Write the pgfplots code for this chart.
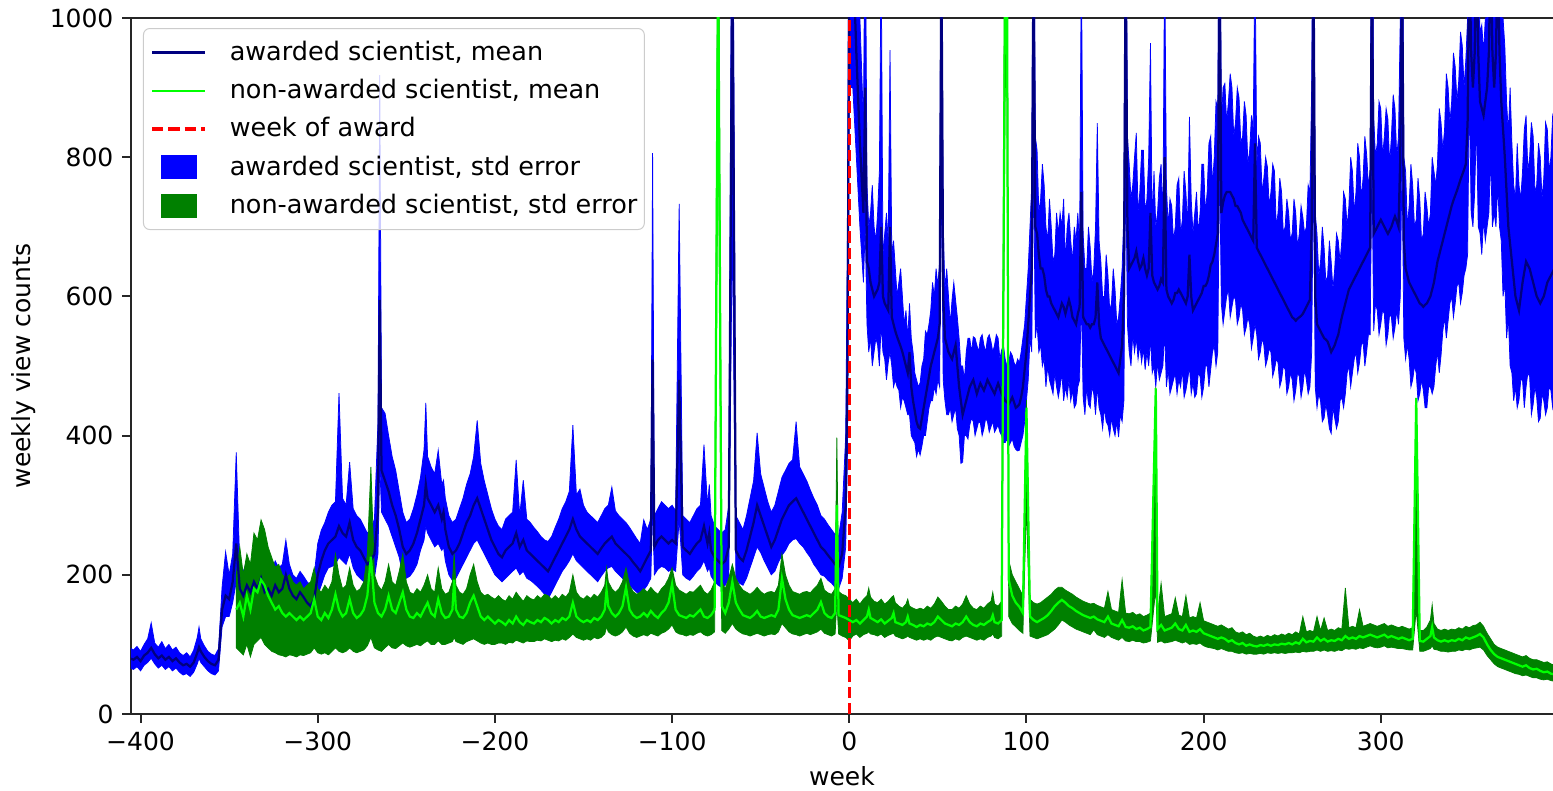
\documentclass[border=0pt]{standalone}
\usepackage{fontspec}
\setmainfont{DejaVu Sans}
\usepackage{pgfplots}
\usepackage{pgfplotstable}
\pgfplotsset{compat=1.18}
\usepgfplotslibrary{fillbetween}
\definecolor{navy}{HTML}{000080}
\definecolor{limeg}{HTML}{00FF00}
\definecolor{mplgreen}{HTML}{008000}
\pgfplotsset{
  mylineleg/.style={legend image code/.code={\draw[##1, sharp corners] (0pt,0pt) -- (21pt,0pt);}},
  mypatchleg/.style={legend image code/.code={\path[##1, draw=none, sharp corners, fill opacity=1] (3.4pt,-4.8pt) rectangle (17.8pt,4.8pt);}},
}
\pgfplotstableread{
w bm bu bl
-406 80 95 66
-404 78 92 64
-402 82 97 68
-400 76 90 62
-398 84 100 70
-396 88 108 74
-394 95 131 80
-392 86 102 72
-390 80 96 66
-388 84 104 70
-386 78 94 64
-384 82 100 68
-382 76 92 62
-380 80 96 66
-378 74 88 60
-376 70 84 56
-374 72 88 58
-372 68 82 54
-370 74 92 60
-368 88 110 72
-367 96 125 80
-366 90 108 74
-364 82 98 68
-362 76 90 62
-360 72 86 58
-358 70 84 56
-356 78 94 62
-354 150 182 125
-352 170 233 140
-350 165 200 140
-348 190 230 160
-346 245 376 190
-344 180 215 150
-342 170 205 145
-340 185 220 155
-338 175 210 145
-336 190 230 155
-334 180 215 150
-332 195 235 160
-330 175 210 145
-328 180 215 150
-326 170 205 140
-324 185 220 150
-322 175 210 145
-320 180 215 150
-318 200 250 165
-316 180 215 150
-314 170 200 145
-312 165 195 140
-310 175 205 148
-308 168 198 142
-306 160 190 135
-304 155 185 130
-302 165 200 140
-300 200 245 170
-298 220 264 185
-296 235 275 200
-294 245 290 210
-292 250 300 212
-290 255 305 215
-288 270 461 225
-286 260 310 220
-284 255 300 215
-282 275 362 230
-280 250 295 210
-278 240 285 200
-276 235 280 195
-274 225 270 190
-272 215 260 182
-270 220 265 185
-268 230 280 195
-266 290 420 230
-265 595 918 360
-264 350 440 290
-262 335 432 280
-260 320 400 270
-258 300 370 255
-256 285 350 240
-254 265 320 225
-252 240 290 200
-250 230 275 195
-248 235 280 198
-246 245 295 205
-244 260 315 215
-242 280 340 235
-240 300 380 250
-239 330 447 270
-238 310 370 260
-236 300 355 250
-234 290 345 240
-232 300 379 245
-230 280 330 235
-229 290 336 240
-228 265 310 220
-226 240 285 200
-224 230 275 192
-222 235 280 195
-220 245 295 205
-218 260 310 215
-216 275 330 225
-214 285 345 235
-212 300 370 245
-210 310 422 250
-208 295 360 240
-206 280 335 230
-204 265 315 220
-202 250 295 210
-200 240 280 200
-198 230 270 195
-196 225 265 190
-194 235 280 195
-192 240 285 200
-190 245 290 205
-188 260 365 210
-186 240 285 200
-184 250 336 205
-182 235 280 195
-180 230 275 192
-178 225 268 188
-176 220 262 183
-174 215 255 178
-172 210 250 172
-170 205 248 165
-168 215 255 175
-166 225 268 185
-164 235 280 195
-162 245 295 205
-160 255 305 212
-158 265 320 220
-156 280 415 230
-154 265 315 220
-152 255 323 215
-150 250 300 210
-148 245 290 205
-146 240 285 200
-144 235 280 195
-142 230 275 190
-140 238 285 198
-138 245 295 205
-136 250 300 210
-134 255 326 212
-132 245 292 205
-130 240 285 200
-128 235 280 195
-126 230 275 190
-124 225 268 185
-122 218 260 180
-120 212 252 175
-118 205 245 172
-116 215 279 178
-114 225 265 185
-112 235 280 195
-111 509 806 300
-110 240 285 200
-108 250 295 208
-106 255 305 212
-104 250 300 210
-102 245 295 205
-100 250 300 208
-98 245 292 205
-96 480 733 280
-94 240 285 200
-92 235 280 195
-90 230 275 192
-88 238 285 198
-86 245 295 205
-84 250 300 210
-82 270 387 220
-80 245 300 205
-79 260 330 210
-78 235 285 198
-76 225 270 190
-74 220 265 185
-72 215 260 182
-70 220 265 185
-68 240 300 195
-66 1100 1400 700
-64 235 285 195
-62 225 275 188
-60 220 265 185
-58 235 285 195
-56 255 310 210
-54 275 335 225
-52 300 404 240
-50 285 345 232
-48 270 325 220
-46 255 305 210
-44 240 290 200
-42 250 300 205
-40 265 320 218
-38 280 340 228
-36 290 350 235
-34 300 360 245
-32 305 365 250
-30 310 420 252
-28 300 355 245
-26 290 345 240
-24 280 335 232
-22 270 322 225
-20 260 310 215
-18 250 300 208
-16 240 285 200
-14 235 280 198
-12 228 272 192
-10 222 265 188
-8 215 258 182
-6 212 255 180
-4 230 290 195
-2 300 400 240
-1 500 700 380
0 1100 1300 900
2 1100 1300 900
4 950 1150 800
6 820 1000 700
8 720 850 620
9 900 1200 700
10 650 760 560
11 640 700 520
12 620 720 540
13 610 760 500
14 600 700 520
15 605 680 540
16 610 720 530
17 620 780 500
18 700 1100 560
19 600 660 520
20 590 690 510
21 585 720 480
22 580 680 505
23 700 954 520
24 570 660 500
25 560 680 470
26 550 640 480
27 542 600 470
28 535 620 465
29 528 640 440
30 520 600 455
31 510 560 450
32 500 580 440
33 490 540 430
34 520 590 430
35 470 540 400
36 450 520 395
37 435 490 390
38 420 480 370
39 412 470 380
40 410 476 372
41 425 500 385
42 440 510 400
43 455 550 400
44 470 545 420
45 485 560 440
46 500 580 450
47 510 620 450
48 520 600 470
49 530 640 460
50 540 615 480
51 560 650 470
52 1100 1300 800
53 600 700 480
54 540 610 450
55 530 640 430
56 520 600 430
57 515 560 440
58 510 595 420
59 520 620 430
60 530 595 440
61 500 570 410
62 470 540 400
63 450 500 360
64 430 500 362
65 440 480 400
66 450 520 400
67 460 540 395
68 470 540 415
69 475 520 425
70 480 542 420
71 470 540 400
72 460 530 410
73 468 520 420
74 475 540 418
75 470 545 400
76 465 530 410
77 472 520 425
78 480 540 420
79 475 545 405
80 470 535 413
81 465 520 420
82 460 530 405
83 468 545 410
84 475 540 415
85 468 510 405
86 460 523 400
87 455 530 390
88 450 510 390
89 448 500 395
90 445 505 385
91 450 520 390
92 455 515 395
93 448 505 385
94 440 500 380
95 442 510 378
96 445 505 379
97 455 520 390
98 470 540 400
99 495 560 420
100 520 600 450
101 560 640 480
102 600 700 540
103 640 760 520
104 1100 1300 800
105 700 830 540
106 690 810 560
107 660 720 520
108 640 740 530
109 640 790 500
110 630 760 510
111 610 700 470
112 600 680 500
113 600 740 480
114 590 700 470
115 585 650 460
116 580 660 490
117 575 720 470
118 570 690 455
119 580 720 470
120 590 700 490
121 585 740 450
122 575 650 470
123 585 700 455
124 595 720 480
125 585 680 450
126 570 650 465
127 565 700 440
128 560 680 445
129 575 720 470
130 585 670 480
131 750 1100 600
132 570 690 455
133 565 640 430
134 560 640 470
135 560 700 445
136 555 670 440
137 560 620 470
138 560 640 460
139 570 700 430
140 620 849 470
141 560 680 440
142 540 650 430
143 535 600 410
144 530 600 440
145 525 660 420
146 520 630 415
147 515 580 400
148 510 590 425
149 505 640 410
150 500 610 400
151 495 560 420
152 490 570 398
153 510 600 430
154 530 640 420
155 600 720 450
156 1100 1300 800
157 700 830 560
158 640 790 520
159 645 740 500
160 650 760 545
161 655 800 520
162 665 835 540
163 650 720 510
164 640 750 530
165 645 810 505
166 655 810 525
167 640 720 495
168 630 740 520
169 640 800 500
170 720 964 540
171 630 700 490
172 620 780 500
173 615 700 470
174 610 720 505
175 615 770 480
176 625 790 490
177 620 700 500
178 800 1100 550
179 610 760 470
180 600 700 495
181 595 740 460
182 590 730 470
183 595 680 480
184 605 700 490
185 605 760 460
186 610 770 480
187 605 690 470
188 600 710 495
189 595 780 455
190 590 750 465
191 600 700 480
192 660 858 500
193 600 740 460
194 580 690 475
195 585 720 455
196 590 750 460
197 595 690 490
198 600 720 485
199 605 790 455
200 615 790 470
201 615 720 500
202 620 750 500
203 630 820 470
204 645 830 495
205 650 760 520
206 660 800 530
207 675 880 500
208 690 870 520
209 1100 1300 800
210 720 850 590
211 735 900 560
212 745 906 580
213 750 850 600
214 750 880 610
215 750 920 570
216 745 900 585
217 740 830 600
218 730 850 595
219 730 900 560
220 725 885 570
221 720 820 590
222 710 830 580
223 705 880 545
224 700 860 555
225 695 790 570
226 690 810 560
227 685 860 525
228 680 840 540
229 820 1100 560
230 670 790 545
231 665 830 510
232 660 820 520
233 655 750 540
234 650 770 530
235 645 800 500
236 640 786 510
237 635 730 525
238 630 750 520
239 625 790 485
240 620 780 495
241 615 700 510
242 610 720 505
243 605 770 470
244 600 750 480
245 595 690 500
246 590 700 495
247 585 740 460
248 580 720 470
249 575 680 490
250 570 691 480
251 568 740 450
252 565 720 465
253 568 670 490
254 570 690 485
255 572 730 455
256 575 714 470
257 580 690 495
258 585 700 480
259 590 760 460
260 595 750 470
261 700 900 520
262 1100 1300 800
263 600 720 470
264 560 690 440
265 555 630 460
266 550 650 450
267 545 700 420
268 540 670 425
269 538 620 445
270 535 630 430
271 528 680 410
272 520 650 403
273 525 610 440
274 530 640 425
275 538 690 410
276 545 680 420
277 558 650 450
278 570 680 455
279 580 750 440
280 590 740 460
281 600 700 490
282 610 730 500
283 615 800 470
284 620 780 490
285 625 720 510
286 630 750 520
287 635 820 490
288 640 800 505
289 645 740 530
290 650 770 535
291 655 830 500
292 660 805 520
293 665 760 545
294 670 780 545
295 1100 1300 800
296 690 858 550
297 695 800 590
298 700 820 580
299 705 880 545
300 710 870 560
301 705 800 580
302 700 830 575
303 695 870 530
304 690 855 545
305 695 790 575
306 700 830 570
307 708 890 540
308 715 870 555
309 708 800 580
310 700 830 560
311 800 1000 600
312 1100 1300 800
313 680 800 540
314 640 780 510
315 630 700 530
316 620 730 510
317 615 790 470
318 610 760 480
319 605 700 500
320 600 710 490
321 595 770 450
322 590 740 460
323 588 680 480
324 585 690 465
325 588 750 440
326 590 730 440
327 595 700 470
328 600 720 470
329 610 800 460
330 620 780 470
331 635 760 500
332 650 790 520
333 660 870 490
334 670 850 515
335 680 810 550
336 690 840 570
337 700 920 540
338 710 900 565
339 720 850 590
340 730 880 600
341 738 950 570
342 745 930 590
343 752 880 615
344 760 910 620
345 768 980 590
346 775 960 605
347 782 900 630
348 790 940 640
349 850 1000 660
350 1100 1300 900
351 950 1100 720
352 900 1100 700
353 950 1150 750
354 1100 1300 850
355 950 1100 700
356 880 978 691
357 870 990 660
358 860 950 710
359 880 1000 680
360 900 1000 700
361 950 1100 720
362 1100 1300 800
363 950 1050 700
364 900 1000 720
365 950 1100 700
366 1100 1300 760
367 950 1100 700
368 880 1000 680
369 840 1000 600
370 800 960 620
371 750 880 540
372 700 834 570
373 675 900 500
374 650 820 490
375 625 760 450
376 600 740 470
377 590 820 440
378 580 760 451
379 600 740 480
380 620 780 480
381 635 840 440
382 650 860 470
383 645 780 490
384 640 800 485
385 630 850 430
386 620 830 445
387 610 750 470
388 600 760 455
389 595 820 420
390 590 800 425
391 595 740 460
392 600 770 450
393 610 850 430
394 620 840 440
395 625 780 470
396 630 800 465
397 635 860 440
398 640 850 455
}\bluetab
\pgfplotstableread{
w gm gu gl
-346 150 200 95
-344 160 240 90
-342 140 200 85
-340 170 230 100
-338 150 215 82
-336 180 260 100
-334 175 250 105
-332 193 279 110
-330 185 265 100
-328 170 240 95
-326 160 225 90
-324 150 211 88
-322 155 215 85
-320 145 200 84
-318 140 195 82
-316 145 200 85
-314 140 190 84
-312 135 185 82
-310 140 190 85
-308 135 180 84
-306 140 185 86
-304 145 190 88
-302 165 210 95
-300 140 180 88
-298 135 175 86
-296 145 185 88
-294 138 178 85
-292 150 190 90
-290 172 230 95
-288 150 200 90
-286 140 180 88
-284 145 185 90
-282 165 210 95
-280 145 185 90
-278 138 176 88
-276 142 180 90
-274 150 190 92
-272 170 230 98
-270 226 355 110
-268 160 200 95
-266 145 185 92
-264 140 178 90
-262 150 190 95
-260 170 215 100
-258 150 190 95
-256 145 185 94
-254 160 205 98
-252 175 230 102
-250 150 190 98
-248 140 175 96
-246 138 172 98
-244 145 180 100
-242 140 175 98
-240 150 185 102
-238 160 200 105
-236 145 180 100
-234 140 175 100
-232 165 210 105
-230 145 180 100
-228 138 172 100
-226 140 175 102
-224 150 190 104
-223 193 230 110
-222 150 185 104
-220 140 175 102
-218 138 172 100
-216 145 180 104
-214 160 200 106
-212 170 215 108
-210 155 190 105
-208 140 175 102
-206 135 170 100
-204 140 172 102
-202 135 168 100
-200 130 165 100
-198 135 170 102
-196 132 165 102
-194 128 162 100
-192 135 170 103
-190 130 165 102
-188 140 175 106
-186 132 168 104
-184 128 162 102
-182 135 170 105
-180 132 166 104
-178 130 164 104
-176 135 170 106
-174 132 166 105
-172 138 172 108
-170 135 170 106
-168 130 165 104
-166 135 170 106
-164 132 165 105
-162 138 172 108
-160 135 168 106
-158 140 175 110
-156 160 200 115
-154 140 175 110
-152 135 168 108
-150 132 165 106
-148 135 170 108
-146 132 166 106
-144 138 172 110
-142 135 168 108
-140 140 175 110
-138 150 185 115
-137 178 210 125
-136 155 190 118
-134 145 180 114
-132 140 175 112
-130 145 180 114
-128 155 190 118
-126 182 210 125
-124 150 185 116
-122 142 176 112
-120 138 172 110
-118 140 175 112
-116 145 180 114
-114 140 175 112
-112 148 182 116
-110 142 176 114
-108 138 172 112
-106 145 180 116
-104 150 185 118
-102 160 195 122
-100 187 210 128
-98 150 185 118
-96 142 178 115
-94 140 175 114
-92 138 172 112
-90 142 176 114
-88 140 175 113
-86 145 180 116
-84 150 185 118
-82 140 176 114
-80 138 172 112
-78 142 178 114
-76 150 190 118
-74 1100 1300 900
-72 155 190 120
-70 145 180 116
-68 160 195 122
-66 190 215 130
-64 160 195 122
-62 150 185 118
-60 142 178 115
-58 140 175 114
-56 138 172 112
-54 142 176 114
-52 148 182 116
-50 140 176 114
-48 138 172 112
-46 140 175 114
-44 142 176 115
-42 140 174 114
-40 150 185 118
-38 195 230 130
-36 165 200 124
-34 150 185 118
-32 142 176 115
-30 140 174 114
-28 138 172 112
-26 140 175 114
-24 142 176 116
-22 140 174 114
-20 145 180 116
-18 150 185 118
-16 161 195 122
-14 145 178 116
-12 140 174 114
-10 138 172 112
-8 145 180 115
-7 300 397 160
-6 142 176 115
-4 140 172 112
-2 138 170 110
0 135 165 105
2 132 160 112
4 135 165 115
6 130 158 110
8 135 165 114
10 140 170 116
11 150 181 118
12 138 168 115
14 135 162 114
16 132 160 112
18 136 165 115
20 130 158 110
22 134 162 113
24 138 168 115
25 145 170 116
26 132 160 112
28 130 155 110
30 128 152 108
32 132 158 110
33 140 165 112
34 130 155 110
36 128 152 108
38 125 150 106
40 128 152 108
42 126 150 106
44 130 155 108
46 128 152 106
48 132 158 110
50 140 168 112
52 135 162 110
54 130 155 108
56 128 150 106
58 126 150 105
60 130 155 108
62 128 152 106
64 132 158 110
66 140 170 112
68 132 158 110
70 128 152 108
72 126 150 106
74 130 155 108
76 128 152 106
78 132 158 110
80 135 162 112
81 142 175 115
82 132 158 110
84 130 155 108
86 135 162 112
88 1100 1300 900
89 1100 1300 900
90 193 221 140
92 170 200 130
94 160 190 125
96 154 180 120
98 145 170 116
100 440 451 300
102 140 165 112
104 135 160 110
106 132 158 108
108 135 160 110
110 138 164 112
112 142 168 114
114 148 172 118
116 155 178 122
118 160 182 128
120 164 182 135
122 160 178 132
124 155 175 128
126 152 172 125
128 148 168 122
130 145 165 120
132 142 162 118
134 140 160 116
136 138 158 114
138 140 159 121
140 136 156 114
142 134 154 112
144 132 152 110
146 140 176 114
148 130 150 110
150 128 148 108
152 126 146 106
154 135 193 110
156 125 145 105
158 124 144 104
160 126 146 106
162 122 142 104
164 124 144 104
166 120 140 102
168 122 142 103
170 125 145 105
173 468 470 180
174 122 142 103
176 128 188 105
178 120 140 102
180 122 142 103
182 124 144 104
184 130 167 106
186 122 142 104
188 120 140 102
190 128 170 104
192 118 138 100
194 120 140 101
196 118 138 100
198 122 160 102
200 116 134 98
202 114 132 96
204 112 130 95
206 110 128 94
208 108 126 92
210 110 128 94
212 108 125 92
214 104 122 90
216 106 124 90
218 102 118 88
220 100 116 87
222 102 118 88
224 98 114 86
226 100 116 87
228 98 112 86
230 97 110 86
232 99 112 87
234 98 110 86
236 100 113 88
238 98 111 87
240 100 114 88
242 99 112 87
244 101 115 88
246 100 113 87
248 102 116 88
250 100 114 88
252 103 118 89
254 101 115 88
256 108 140 90
258 103 118 89
260 105 120 90
262 104 118 90
264 110 140 92
266 105 120 90
268 108 138 92
270 104 120 90
272 106 122 91
274 105 120 90
276 108 124 92
278 106 122 91
280 112 181 94
282 108 124 93
284 110 126 94
286 108 124 93
288 112 150 95
290 110 126 94
292 112 128 96
294 114 130 98
296 112 128 96
298 110 126 95
300 112 128 96
302 114 130 98
304 110 126 95
306 112 128 96
308 110 126 95
310 108 124 94
312 110 126 94
314 108 124 93
316 106 122 92
318 108 124 92
320 454 454 150
322 105 120 90
324 104 120 90
326 108 125 92
328 112 135 94
329 125 157 98
330 110 130 93
332 106 122 92
334 104 120 90
336 106 122 90
338 104 120 89
340 106 122 90
342 105 121 90
344 108 124 92
346 106 122 91
348 110 126 93
350 108 124 92
352 110 127 94
354 112 128 95
356 115 132 96
358 110 126 92
360 100 116 84
362 92 108 78
364 86 100 72
366 82 96 68
368 80 94 66
370 78 92 64
372 76 90 62
374 74 88 60
376 72 86 58
378 70 84 57
380 68 82 55
382 70 84 56
384 66 80 54
386 64 78 52
388 65 78 52
390 62 76 50
392 60 74 49
394 61 75 50
396 58 72 48
398 57 70 47
}\greentab
\begin{document}
\begin{tikzpicture}
\begin{axis}[
  scale only axis, width=568.8pt, height=278.4pt,
  at={(0pt,0pt)}, anchor=south west,
  xmin=-405.4, xmax=397.2, ymin=0, ymax=1000,
  axis x line*=box, axis y line*=left,
  axis line style={-, line width=0.8pt, black!85},
  tick align=outside, xtick pos=bottom, ytick pos=left,
  major tick length=3.5pt,
  tick style={line width=0.8pt, black!85},
  xtick={-400,-300,-200,-100,0,100,200,300},
  xticklabels={−400,−300,−200,−100,0,100,200,300},
  ytick={0,200,400,600,800,1000},
  yticklabels={0,200,400,600,800,1000},
  xlabel={week}, ylabel={weekly view counts},
  xlabel style={at={(axis description cs:0.5,-0.0891)}, anchor=center},
  ylabel style={at={(axis description cs:-0.0752,0.5)}, anchor=center, rotate=0},
  legend style={at={(axis description cs:0.00844,0.9856)}, anchor=north west,
    draw=black!20, rounded corners=2.5pt, fill=white, fill opacity=0.8, text opacity=1,
    inner xsep=2.8pt, inner ysep=4.3pt, row sep=4.7pt,
    nodes={inner sep=0pt, text height=8.4pt, text depth=2.2pt, font=\fontsize{10.2}{12}\selectfont},
    /tikz/every odd column/.append style={column sep=9.4pt}},
  legend cell align=left,
]
\addplot[name path=BU, draw=none, forget plot] table[x=w,y=bu]{\bluetab};
\addplot[name path=BL, draw=none, forget plot] table[x=w,y=bl]{\bluetab};
\addplot[fill=blue, draw=blue, line width=0.3pt, forget plot] fill between[of=BU and BL];
\addplot[navy, line width=0.9pt, forget plot] table[x=w,y=bm]{\bluetab};
\addplot[name path=GU, draw=none, forget plot] table[x=w,y=gu]{\greentab};
\addplot[name path=GL, draw=none, forget plot] table[x=w,y=gl]{\greentab};
\addplot[fill=mplgreen, draw=mplgreen, line width=0.3pt, forget plot] fill between[of=GU and GL];
\addplot[limeg, line width=0.9pt, forget plot] table[x=w,y=gm]{\greentab};
\addplot[red, line width=1.3pt, dash pattern=on 4.5pt off 2pt, forget plot] coordinates {(0,0) (0,1000)};
\addlegendimage{mylineleg, navy, line width=1pt}
\addlegendentry{awarded scientist, mean}
\addlegendimage{mylineleg, limeg, line width=1pt}
\addlegendentry{non-awarded scientist, mean}
\addlegendimage{mylineleg, red, line width=1.3pt, dash pattern=on 4.5pt off 2pt}
\addlegendentry{week of award}
\addlegendimage{mypatchleg, fill=blue}
\addlegendentry{awarded scientist, std error}
\addlegendimage{mypatchleg, fill=mplgreen}
\addlegendentry{non-awarded scientist, std error}
\end{axis}
\pgfresetboundingbox
\useasboundingbox (-52.4pt,-30.4pt) rectangle (568.8pt,285.6pt);
\end{tikzpicture}
\end{document}
